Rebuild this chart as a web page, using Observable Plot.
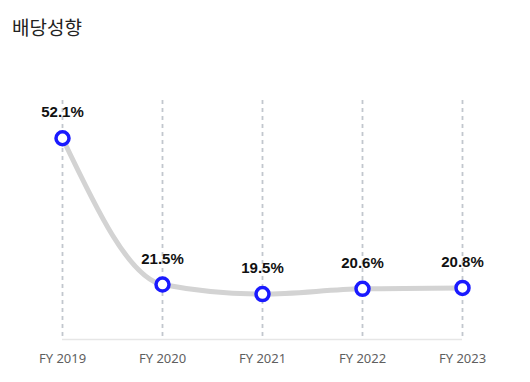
<!DOCTYPE html>
<html>
<head>
<meta charset="utf-8">
<script src="https://cdn.jsdelivr.net/npm/d3@7"></script>
<script src="https://cdn.jsdelivr.net/npm/@observablehq/plot@0.6"></script>
<style>
  html, body { margin: 0; padding: 0; background: #fff; }
  #title { height: 60px; box-sizing: border-box; padding: 15px 0 0 12px; font-family: "Noto Sans CJK KR", "Noto Sans", sans-serif; font-size: 19px; color: #222; line-height: 24px; }
  #chart svg { display: block; }
</style>
</head>
<body>
<div id="title">배당성향</div>
<div id="chart"></div>
<script>
const years = ["FY 2019", "FY 2020", "FY 2021", "FY 2022", "FY 2023"];
const payout = [52.1, 21.5, 19.5, 20.6, 20.8];
const yDomain = [10, 60];

const data = years.map((y, i) => ({year: y, value: payout[i]}));

const chart = Plot.plot({
  width: 530,
  height: 322,
  marginTop: 40,
  marginBottom: 43,
  marginLeft: 62,
  marginRight: 68,
  style: {fontFamily: "'Noto Sans', sans-serif", background: "#fff"},
  x: {type: "point", domain: years, padding: 0, label: null},
  y: {domain: yDomain, axis: null},
  marks: [
    Plot.ruleX(years, {x: d => d, stroke: "#c2c7ce", strokeWidth: 1.8, strokeDasharray: "4,4"}),
    Plot.ruleY([yDomain[0]], {stroke: "#e6e6e6", strokeWidth: 1.5}),
    Plot.axisX({tickSize: 0, tickPadding: 14, fontSize: 13, fill: "#5f5f5f", label: null}),
    Plot.line(data, {x: "year", y: "value", curve: "monotone-x", stroke: "#d3d3d3", strokeWidth: 5}),
    Plot.dot(data, {x: "year", y: "value", r: 6.5, stroke: "#1a1aff", strokeWidth: 3.5, fill: "#fff"}),
    Plot.text(data, {x: "year", y: "value", text: d => d.value.toFixed(1) + "%", lineAnchor: "bottom", dy: -21, fontSize: 15, fontWeight: "bold", fill: "#111", fontFamily: "'Liberation Sans', Arial, sans-serif"})
  ]
});
document.getElementById("chart").appendChild(chart);
</script>
</body>
</html>
